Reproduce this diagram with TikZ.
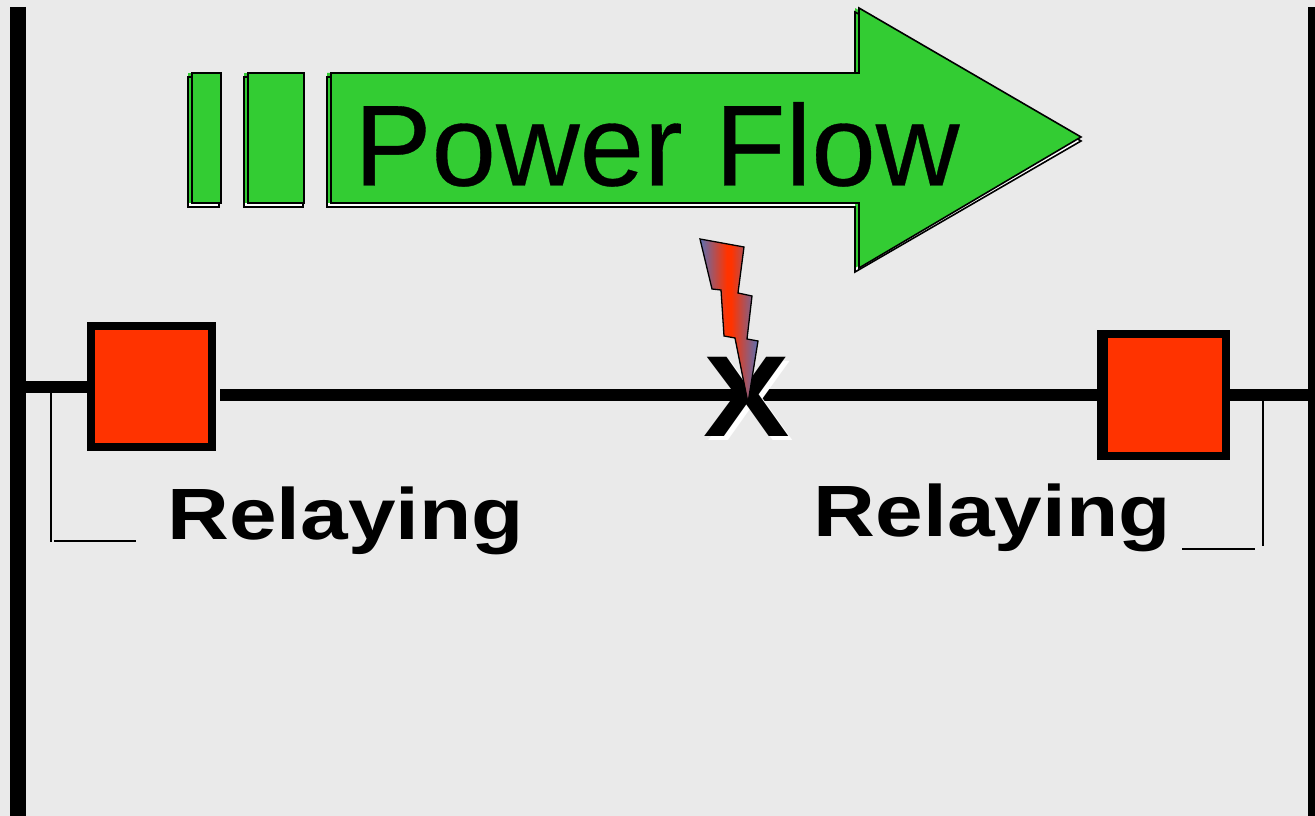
\documentclass[tikz,border=0pt]{standalone}
\usepackage{fontspec}
\setmainfont{Liberation Sans}
\newfontfamily\flowfont[FakeBold=0.3]{Liberation Sans}
\usetikzlibrary{positioning}
\definecolor{flowgreen}{HTML}{33CC33}
\definecolor{relayred}{HTML}{FF3300}
\definecolor{boltblue}{HTML}{5A70B4}
\definecolor{panel}{HTML}{EAEAEA}
\def\px{0.75pt}
\pgfdeclarehorizontalshading{boltshade}{100bp}{color(0bp)=(boltblue); color(25bp)=(boltblue); color(48bp)=(relayred); color(52bp)=(relayred); color(75bp)=(boltblue); color(100bp)=(boltblue)}
\tikzset{
  busbar/.style={line width=16*\px},
  feeder/.style={line width=12*\px},
  wire/.style={line width=1.4*\px},
  relaybox/.style={draw=black,fill=relayred,line width=8*\px,minimum width=121*\px,minimum height=121*\px,inner sep=0pt,outer sep=0pt},
  relaytext/.style={anchor=base west,inner sep=0pt,font=\fontsize{54.5}{60}\selectfont\bfseries,xscale=1.178,transform shape},
  bigtext/.style={anchor=base west,inner sep=0pt,font=\fontsize{86.4}{100}\flowfont\selectfont,xscale=1.006,transform shape},
  faulttext/.style={anchor=base,inner sep=0pt,font=\fontsize{86.4}{100}\selectfont\bfseries,xscale=1.125,transform shape},
  flowedge/.style={draw=black,line width=1.6*\px}
}
% one green piece : copy behind (white below, green at the left), then the front
\newcommand{\flowpiece}[2]{
  \fill[white] #2;
  \fill[flowgreen,shift={(0,-4)}] #2;
  \draw[flowedge] #2;
  \draw[flowedge,fill=flowgreen] #1;
}
\begin{document}
\begin{tikzpicture}[x=0.75pt,y=-0.75pt]
\useasboundingbox (0,0) rectangle (1315,816);
\fill[panel] (0,0) rectangle (1315,816);
%bus bars
\coordinate (busLtop) at (18.3,7);
\coordinate (busLbot) at (18.3,816);
\coordinate (busRtop) at (1311.5,7);
\coordinate (busRbot) at (1311.5,816);
\draw[busbar] (busLtop) -- (busLbot);
\draw[busbar,line width=8*\px] (busRtop) -- (busRbot);
%breakers
\node[relaybox] (relayL) at (151.5,387) {};
\node[relaybox,minimum width=125*\px,minimum height=122*\px] (relayR) at (1163.5,395) {};
\draw[line width=3*\px] ([xshift=5.5*\px]relayR.north west) -- ([xshift=5.5*\px]relayR.south west);
%line
\coordinate (tapL) at (26,387);
\coordinate (stub) at (220,395);
\coordinate (tapR) at (1307.5,395);
\draw[feeder] (tapL) -- (relayL.west);
\draw[feeder] (stub) -- (relayR.west);
\draw[feeder] (relayR.east) -- (tapR);
%relay leads
\coordinate (leadLa) at (51,393);
\coordinate (leadLb) at (51,542);
\coordinate (leadLc) at (54,541);
\coordinate (leadLd) at (136,541);
\coordinate (leadRa) at (1263,401);
\coordinate (leadRb) at (1263,546);
\coordinate (leadRc) at (1182,549);
\coordinate (leadRd) at (1255,549);
\draw[wire] (leadLa) -- (leadLb);
\draw[wire] (leadLc) -- (leadLd);
\draw[wire] (leadRa) -- (leadRb);
\draw[wire] (leadRc) -- (leadRd);
\node[relaytext] (textL) at (167,540) {Relaying};
\node[relaytext] (textR) at (813.5,537) {Relaying};
%power flow arrow
\flowpiece{(192,73) rectangle (221,203)}{(188,77) rectangle (219,207)}
\flowpiece{(248,73) rectangle (304,203)}{(244,77) rectangle (303,207)}
\flowpiece{(331,73) -- (859,73) -- (859,8) -- (1081,137) -- (859,268) -- (859,203) -- (331,203) -- cycle}{(327,77) -- (855,77) -- (855,12) -- (1081,141) -- (855,272) -- (855,207) -- (327,207) -- cycle}
\node[bigtext] (flow) at (354,185.5) {Power Flow};
%fault
\node[faulttext,white] (faultshadow) at (750.5,441) {X};
\node[faulttext] (fault) at (746.5,437) {X};
\draw[black,line width=1.3*\px,shading=boltshade]
  (700,239) -- (744,247) -- (738,293) -- (752,296) -- (747,339) -- (758,341) -- (748,403)
  -- (735,338) -- (724,336) -- (721,290) -- (712,289) -- cycle;
\end{tikzpicture}
\end{document}
